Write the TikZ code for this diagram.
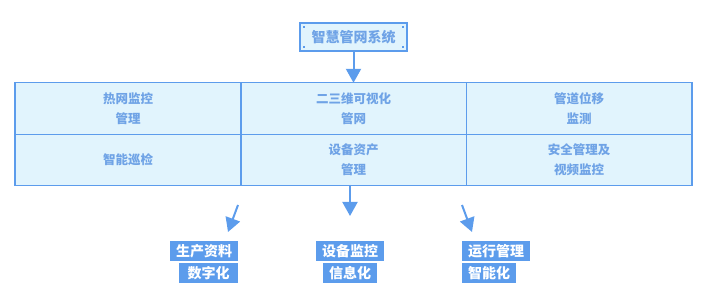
\documentclass[tikz,border=0pt]{standalone}
\usepackage{fontspec}
\setmainfont{Noto Sans CJK SC}
\usetikzlibrary{arrows.meta}
\definecolor{lineblue}{HTML}{5C9CEC}
\definecolor{fillblue}{HTML}{E1F4FD}
\definecolor{textblue}{HTML}{6FA3E6}
\begin{document}
\begin{tikzpicture}[x=1pt,y=-1pt,
  cell/.style={fill=fillblue,minimum width=225.5pt,minimum height=51pt,inner sep=0pt,
    text=textblue,font=\bfseries\fontsize{12.5pt}{20pt}\selectfont,align=center},
  grid/.style={draw=lineblue,line width=1.2pt},
  titlebox/.style={draw=lineblue,fill=fillblue,line width=1.2pt,minimum width=107pt,minimum height=28pt,inner sep=0pt,
    text=textblue,font=\bfseries\fontsize{14pt}{16pt}\selectfont},
  tag/.style={fill=lineblue,text=white,inner sep=0pt,minimum height=20pt,anchor=north west,
    font=\bfseries\fontsize{14pt}{16pt}\selectfont},
  arr/.style={draw=lineblue,line width=2pt,-{Triangle[width=15pt,length=14pt]}},
  dot/.style={fill=lineblue,minimum size=2.5pt,inner sep=0pt}
]
\useasboundingbox (0,0) rectangle (710,299);
% title
\node[titlebox] (top) at (353.5,37) {智慧管网系统};
\node[dot] (d1) at (304,27) {};
\node[dot] (d2) at (403,27) {};
\node[dot] (d3) at (304,47) {};
\node[dot] (d4) at (403,47) {};
% table
\node[cell] (c11) at (128,108.5) {热网监控\\管理};
\node[cell] (c12) at (353.5,108.5) {二三维可视化\\管网};
\node[cell] (c13) at (579,108.5) {管道位移\\监测};
\node[cell] (c21) at (128,159.5) {智能巡检};
\node[cell] (c22) at (353.5,159.5) {设备资产\\管理};
\node[cell] (c23) at (579,159.5) {安全管理及\\视频监控};
\draw[grid] (c11.north west) rectangle (c23.south east);
\draw[grid] (c11.south west) -- (c13.south east);
\draw[grid] (c11.north east) -- (c21.south east);
\draw[grid] (c12.north east) -- (c22.south east);
% arrows
\draw[arr] (top.south) -- (top.south |- c12.north);
\coordinate (m0) at (350,185);
\coordinate (m1) at (350,216);
\draw[arr] (m0) -- (m1);
\coordinate (l0) at (238,205);
\coordinate (l1) at (228,232);
\draw[arr] (l0) -- (l1);
\coordinate (r0) at (462,205);
\coordinate (r1) at (472,232);
\draw[arr] (r0) -- (r1);
% tags
\node[tag,minimum width=68pt] (t1) at (170,241) {生产资料};
\node[tag,minimum width=59pt] (t2) at (179,263) {数字化};
\node[tag,minimum width=68pt] (t3) at (316,241) {设备监控};
\node[tag,minimum width=54pt] (t4) at (323,263) {信息化};
\node[tag,minimum width=68pt] (t5) at (462,241) {运行管理};
\node[tag,minimum width=54pt] (t6) at (462,263) {智能化};
\end{tikzpicture}
\end{document}
